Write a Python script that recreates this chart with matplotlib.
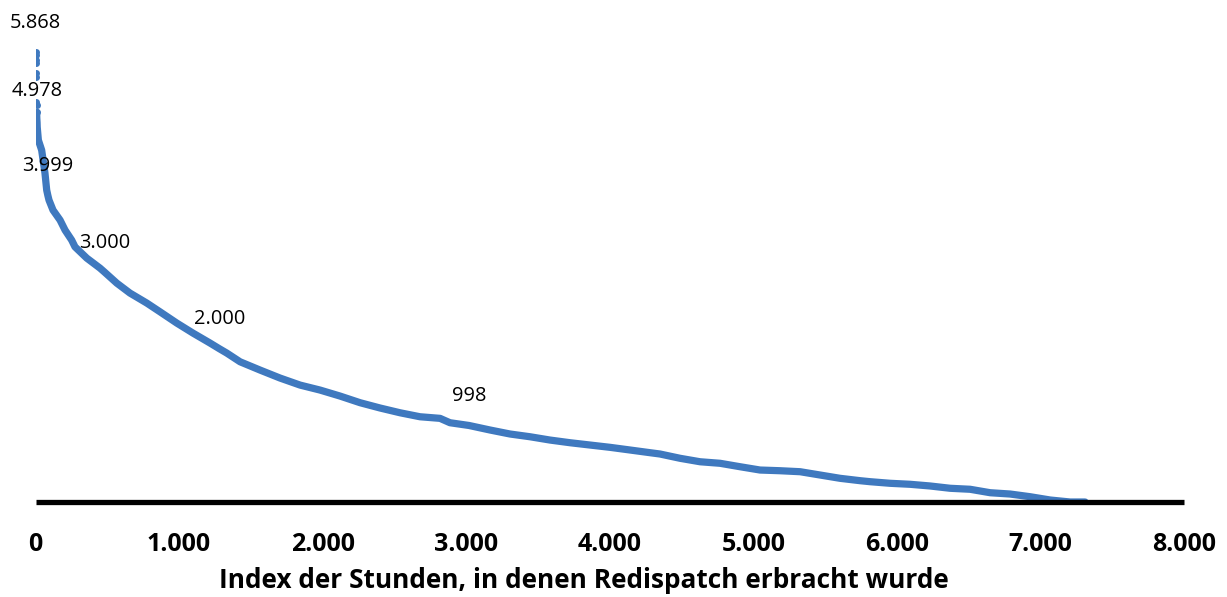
import matplotlib
matplotlib.use("Agg")
import matplotlib.pyplot as plt

# Duration curve: hour index vs. redispatch value
hour_index = [0, 1, 2, 3, 4, 5, 6, 7, 8, 9, 10, 11, 12,
              20, 43, 66, 78, 86, 94, 122, 171, 206, 252, 275, 357, 449, 480,
              566, 658, 775, 867, 984, 1097, 1216, 1280, 1332, 1425, 1564, 1703,
              1843, 1982, 2121, 2261, 2400, 2539, 2678, 2818, 2887, 3020, 3166,
              3305, 3445, 3584, 3724, 3863, 4002, 4142, 4281, 4350, 4490, 4629,
              4768, 4908, 5047, 5186, 5326, 5465, 5604, 5744, 5813, 5953, 6092,
              6231, 6371, 6510, 6650, 6789, 6928, 7068, 7207, 7311]
redispatch = [5868, 5830, 5765, 5720, 5595, 5540, 5215, 5175, 5085, 5010, 4978, 4950, 4890,
              4720, 4589, 4289, 4068, 3999, 3938, 3807, 3677, 3546, 3416, 3328, 3181, 3051, 3000,
              2855, 2725, 2595, 2481, 2334, 2203, 2073, 2000, 1943, 1829, 1721, 1617,
              1525, 1460, 1382, 1295, 1226, 1164, 1112, 1091, 1034, 998, 939,
              887, 851, 808, 773, 743, 713, 678, 643, 626, 570, 525,
              505, 460, 417, 408, 395, 352, 309, 278, 265, 244, 231,
              209, 179, 166, 121, 104, 69, 26, 0, 0]
n_discrete = 9  # isolated top points shown as separate dots

# Points carrying a data label
label_index = [0, 10, 17, 26, 34, 48]

x_ticks = [0, 1000, 2000, 3000, 4000, 5000, 6000, 7000, 8000]
x_ticklabels = ["0", "1.000", "2.000", "3.000", "4.000", "5.000", "6.000", "7.000", "8.000"]
x_title = "Index der Stunden, in denen Redispatch erbracht wurde"

blue = "#3f79bf"

fig = plt.figure(figsize=(12.27, 5.97), dpi=100)
ax = fig.add_axes([35.5 / 1227, (597 - 502) / 597, 1148.5 / 1227, 460 / 597])

ax.plot(hour_index[:n_discrete], redispatch[:n_discrete], linestyle="none",
        marker="o", markersize=5, color=blue, markeredgewidth=0)
ax.plot(hour_index[n_discrete - 1:], redispatch[n_discrete - 1:], color=blue,
        linewidth=5.2, solid_capstyle="round", solid_joinstyle="round")

def de_fmt(v):
    return f"{v:,}".replace(",", ".")

for i in label_index:
    ax.annotate(de_fmt(redispatch[i]), (hour_index[i], redispatch[i]),
                xytext=(0, 21), textcoords="offset points", ha="center", va="center",
                fontsize=14.4, family="Open Sans", color="black")

ax.set_xlim(0, 8000)
ax.set_ylim(0, 6000)
ax.set_yticks([])
for s in ["top", "right", "left"]:
    ax.spines[s].set_visible(False)
ax.spines["bottom"].set_linewidth(3.8)
ax.spines["bottom"].set_color("black")
ax.spines["bottom"].set_capstyle("butt")

ax.set_xticks(x_ticks)
ax.set_xticklabels(x_ticklabels, fontsize=18, fontweight="bold", family="Open Sans")
ax.tick_params(axis="x", length=0, pad=21.5)
ax.set_xlabel(x_title, fontsize=18.9, fontweight="bold", family="Open Sans", va="center")
ax.xaxis.set_label_coords(0.4776, -0.1696)

fig.savefig("out.png", dpi=100)
